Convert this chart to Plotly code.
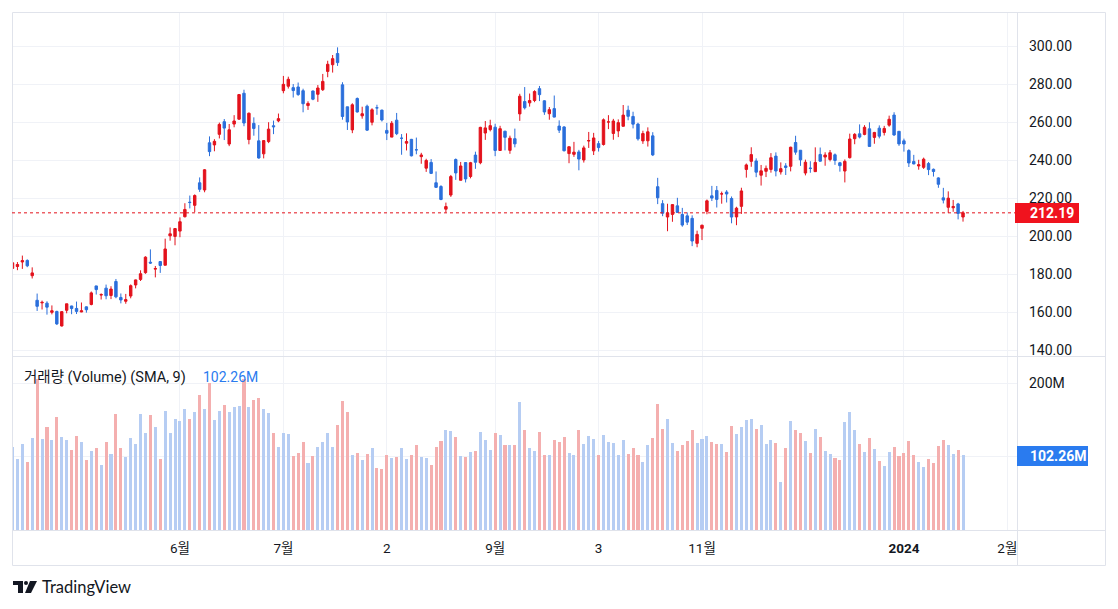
import plotly.graph_objects as go

# ---------------- data (TSLA daily) ----------------
dates = [
    "2023-04-13","2023-04-14","2023-04-17","2023-04-18","2023-04-19","2023-04-20","2023-04-21","2023-04-24","2023-04-25","2023-04-26","2023-04-27","2023-04-28",
    "2023-05-01","2023-05-02","2023-05-03","2023-05-04","2023-05-05","2023-05-08","2023-05-09","2023-05-10","2023-05-11","2023-05-12","2023-05-15","2023-05-16","2023-05-17","2023-05-18","2023-05-19","2023-05-22","2023-05-23","2023-05-24","2023-05-25","2023-05-26","2023-05-30","2023-05-31",
    "2023-06-01","2023-06-02","2023-06-05","2023-06-06","2023-06-07","2023-06-08","2023-06-09","2023-06-12","2023-06-13","2023-06-14","2023-06-15","2023-06-16","2023-06-20","2023-06-21","2023-06-22","2023-06-23","2023-06-26","2023-06-27","2023-06-28","2023-06-29","2023-06-30",
    "2023-07-03","2023-07-05","2023-07-06","2023-07-07","2023-07-10","2023-07-11","2023-07-12","2023-07-13","2023-07-14","2023-07-17","2023-07-18","2023-07-19","2023-07-20","2023-07-21","2023-07-24","2023-07-25","2023-07-26","2023-07-27","2023-07-28","2023-07-31",
    "2023-08-01","2023-08-02","2023-08-03","2023-08-04","2023-08-07","2023-08-08","2023-08-09","2023-08-10","2023-08-11","2023-08-14","2023-08-15","2023-08-16","2023-08-17","2023-08-18","2023-08-21","2023-08-22","2023-08-23","2023-08-24","2023-08-25","2023-08-28","2023-08-29","2023-08-30","2023-08-31",
    "2023-09-01","2023-09-05","2023-09-06","2023-09-07","2023-09-08","2023-09-11","2023-09-12","2023-09-13","2023-09-14","2023-09-15","2023-09-18","2023-09-19","2023-09-20","2023-09-21","2023-09-22","2023-09-25","2023-09-26","2023-09-27","2023-09-28","2023-09-29",
    "2023-10-02","2023-10-03","2023-10-04","2023-10-05","2023-10-06","2023-10-09","2023-10-10","2023-10-11","2023-10-12","2023-10-13","2023-10-16","2023-10-17","2023-10-18","2023-10-19","2023-10-20","2023-10-23","2023-10-24","2023-10-25","2023-10-26","2023-10-27","2023-10-30","2023-10-31",
    "2023-11-01","2023-11-02","2023-11-03","2023-11-06","2023-11-07","2023-11-08","2023-11-09","2023-11-10","2023-11-13","2023-11-14","2023-11-15","2023-11-16","2023-11-17","2023-11-20","2023-11-21","2023-11-22","2023-11-24","2023-11-27","2023-11-28","2023-11-29","2023-11-30",
    "2023-12-01","2023-12-04","2023-12-05","2023-12-06","2023-12-07","2023-12-08","2023-12-11","2023-12-12","2023-12-13","2023-12-14","2023-12-15","2023-12-18","2023-12-19","2023-12-20","2023-12-21","2023-12-22","2023-12-26","2023-12-27","2023-12-28","2023-12-29",
    "2024-01-02","2024-01-03","2024-01-04","2024-01-05","2024-01-08","2024-01-09","2024-01-10","2024-01-11","2024-01-12","2024-01-16","2024-01-17","2024-01-18","2024-01-19",
]

opens = [
    182.96,183.95,186.32,187.15,179.10,166.17,164.80,164.65,159.82,160.29,152.64,160.90,
    163.17,161.88,160.01,162.71,163.97,173.72,168.95,172.55,168.70,176.07,167.66,165.65,168.41,174.22,177.17,180.70,186.20,182.56,186.54,184.62,200.10,199.78,
    202.59,210.15,217.80,216.14,228.00,224.22,249.07,247.94,253.51,260.17,248.40,258.92,261.50,275.13,250.77,259.29,250.07,243.24,249.70,258.03,260.60,
    276.49,278.82,278.09,278.43,276.47,268.65,276.33,274.59,277.01,286.63,290.15,296.04,279.56,268.00,255.85,272.38,263.25,268.31,259.86,267.48,
    266.26,255.57,252.04,260.97,251.45,248.84,250.87,245.40,241.77,235.70,238.73,228.02,226.06,214.12,221.55,240.25,229.34,238.66,231.31,242.58,238.58,254.20,255.98,
    257.26,245.00,255.14,245.07,251.22,264.27,270.76,270.07,271.32,277.55,271.16,264.35,267.04,257.85,257.40,243.38,242.98,244.26,240.02,250.00,
    244.81,248.61,248.14,260.00,253.98,255.31,257.75,266.20,262.92,258.90,250.05,250.10,252.70,225.95,217.01,210.00,211.36,215.88,211.32,210.60,209.28,196.12,
    204.04,212.97,221.15,223.98,222.15,223.15,219.75,210.03,215.60,235.03,239.29,239.49,232.00,234.04,235.04,242.04,233.75,236.89,236.68,249.21,245.14,
    233.14,235.75,233.87,242.92,241.55,240.27,242.74,238.55,234.19,241.22,251.21,253.78,253.48,256.41,251.90,256.76,254.49,258.35,263.66,255.10,
    250.08,244.98,239.25,236.86,236.14,238.11,235.10,230.57,220.08,215.10,214.86,216.88,209.99,
]

highs = [
    186.50,186.28,189.69,187.69,183.50,169.70,166.00,165.65,163.47,160.67,160.48,164.33,
    163.28,165.49,165.00,162.95,170.79,173.80,169.82,174.43,173.57,177.38,169.76,169.52,174.50,177.06,181.95,189.32,192.96,184.22,186.78,198.60,204.48,203.95,
    209.80,217.25,221.29,221.91,230.83,235.23,252.42,250.97,259.68,261.57,258.95,263.60,274.75,276.99,265.00,262.45,258.37,250.39,259.88,260.74,264.45,
    284.25,283.85,279.97,280.78,277.52,270.90,276.52,279.45,285.30,292.23,295.26,299.29,280.93,268.00,269.85,272.90,268.04,269.13,267.25,269.08,
    266.47,259.52,260.49,264.77,253.65,254.03,251.10,251.80,243.79,240.66,240.50,233.97,226.74,217.58,232.13,240.82,238.98,238.92,239.00,244.38,257.48,260.51,261.18,
    259.08,258.00,255.39,252.81,256.52,274.85,278.39,274.98,276.71,278.98,271.44,267.85,273.93,260.86,257.79,247.10,249.55,245.33,247.55,254.77,
    254.28,250.02,261.86,263.60,261.65,261.36,268.94,268.60,265.41,259.60,255.40,257.18,254.63,230.61,218.86,216.98,216.08,220.10,214.80,212.41,210.88,202.80,
    205.99,219.20,226.37,226.32,223.38,224.15,220.80,215.38,225.40,238.14,246.70,240.88,237.39,237.10,243.62,244.01,238.75,238.33,247.00,252.75,245.22,
    240.19,239.37,246.66,246.57,244.08,245.27,243.44,238.99,240.30,253.88,254.13,258.74,258.34,259.84,254.80,258.22,257.97,263.34,265.13,255.19,
    251.25,245.68,242.70,240.12,241.25,238.96,235.50,230.93,225.34,223.49,218.98,217.45,213.19,
]

lows = [
    180.94,182.01,182.69,183.58,177.65,160.56,161.32,158.61,158.75,153.14,152.37,159.31,
    158.83,158.93,159.91,159.65,163.51,169.19,166.56,166.68,166.79,167.23,164.55,164.35,167.19,172.45,176.31,180.11,185.26,178.22,180.58,184.53,197.53,195.12,
    199.37,209.75,214.52,212.53,223.20,223.01,242.02,244.59,251.34,250.50,247.29,257.21,261.07,257.78,248.25,252.80,240.70,240.85,248.89,253.61,259.89,
    275.11,277.60,272.88,273.77,265.10,266.37,271.46,270.60,276.31,283.57,286.01,289.52,261.20,255.80,254.12,265.00,261.75,255.30,258.23,263.78,
    260.25,250.49,252.00,253.11,242.76,245.03,241.90,243.00,238.02,233.75,232.61,225.38,218.83,212.36,220.58,229.55,229.29,228.18,230.35,235.35,237.77,250.59,255.05,
    242.01,244.86,245.06,243.27,246.67,260.61,266.60,268.10,270.42,271.00,263.76,261.20,262.46,254.21,244.48,238.31,241.66,234.58,238.65,246.35,
    242.62,244.45,247.60,256.25,250.65,252.05,257.65,260.90,256.63,250.22,248.48,247.08,242.08,216.78,210.42,202.51,207.48,212.20,204.88,205.77,194.67,194.07,
    197.85,211.45,218.40,215.00,217.00,217.64,206.68,205.69,211.61,230.72,236.45,230.96,226.54,231.02,233.34,231.40,232.33,232.10,234.01,242.76,236.91,
    231.90,233.29,233.70,239.17,236.98,239.27,237.45,233.87,228.20,240.79,248.30,251.36,253.01,247.00,248.55,251.37,252.91,257.52,252.71,247.43,
    244.41,236.32,237.73,234.90,235.30,232.04,231.29,225.37,217.15,212.18,212.73,208.74,207.56,
]

closes = [
    185.90,185.00,187.04,184.31,180.59,162.99,165.08,162.55,160.67,153.75,160.19,164.31,
    161.83,160.31,160.61,161.20,170.06,171.79,169.15,168.54,172.08,167.98,166.35,166.52,173.86,176.89,180.14,188.87,185.77,182.90,184.47,193.17,201.16,203.93,
    207.52,213.97,217.61,221.31,224.57,234.86,244.40,249.83,258.71,256.79,255.90,260.54,274.45,259.46,264.61,256.60,241.05,250.21,256.24,257.50,261.77,
    279.82,282.48,276.54,274.43,269.61,269.79,271.99,277.90,281.38,290.38,293.34,291.26,262.90,260.02,269.06,265.28,264.35,255.71,266.44,267.43,
    261.07,254.11,259.32,253.86,251.45,249.70,242.19,245.34,242.65,239.76,232.96,225.60,219.22,215.49,231.28,233.19,236.86,230.04,238.59,238.82,257.18,256.90,258.08,
    245.01,256.49,251.92,251.49,248.50,273.58,267.48,271.30,276.04,274.39,265.28,266.50,262.59,255.70,244.88,246.99,244.12,240.50,246.38,250.22,
    251.60,246.53,261.16,260.05,260.53,259.67,263.62,262.99,258.87,251.12,253.92,254.85,242.68,220.11,211.99,212.08,216.52,212.42,205.76,207.30,197.36,200.84,
    205.66,218.51,219.96,219.27,222.18,222.11,209.98,214.65,223.71,237.41,242.84,233.59,234.30,235.60,241.20,234.21,235.45,236.08,246.72,244.14,240.08,
    238.83,235.58,238.72,239.37,242.64,243.84,239.74,237.01,239.29,251.05,253.50,252.08,257.22,247.14,254.50,252.54,256.61,261.44,253.18,248.48,
    248.42,238.45,237.93,237.49,240.45,234.96,233.94,227.22,218.89,219.91,215.55,211.88,212.19,
]

volumes_m = [
    112.9,96.3,116.7,92.1,125.7,205.0,123.5,140.0,121.9,153.4,127.0,122.5,
    109.0,128.3,119.7,95.1,107.4,112.2,88.6,119.8,103.9,157.6,112.1,98.8,125.7,117.3,157.6,132.0,156.9,140.5,96.9,162.1,131.8,150.7,
    148.0,164.1,151.1,160.6,184.0,164.5,199.9,150.3,162.4,170.6,160.2,167.6,169.0,206.0,166.9,176.6,179.9,165.2,159.8,131.3,112.3,
    131.9,131.2,101.3,104.3,119.5,91.0,100.2,112.7,119.9,131.6,112.4,142.4,175.2,161.0,101.7,104.2,95.9,103.6,111.4,84.6,
    83.2,101.8,97.6,99.2,111.1,96.6,101.6,115.7,98.9,98.6,88.2,112.5,120.6,135.8,134.6,126.0,101.0,99.7,106.0,107.7,134.0,121.9,108.9,
    132.3,129.5,116.0,115.0,115.9,174.7,135.9,111.7,107.7,133.4,101.5,102.4,122.5,119.5,127.0,104.6,101.7,136.6,117.1,128.3,
    123.8,101.9,129.7,119.2,117.9,101.4,122.7,103.7,111.5,102.3,93.2,116.3,125.1,170.8,138.0,150.7,118.2,107.1,115.1,121.2,136.4,118.1,
    124.1,127.5,120.0,117.3,116.9,106.6,142.1,130.0,140.4,149.8,150.7,136.8,142.5,116.6,122.3,117.9,65.1,112.0,148.5,135.4,132.4,
    121.2,104.1,137.8,126.4,107.1,103.0,97.9,95.3,146.3,160.8,135.7,116.4,106.7,125.1,109.6,93.4,86.9,106.5,113.6,100.9,
    104.7,121.1,102.6,92.5,85.2,96.7,91.6,113.7,122.9,115.4,103.2,108.6,102.1,
]

last_price = 212.19
volume_sma9 = 102.26

# time-axis ticks (bar index -> label)
tick_index = [34, 55, 76, 98, 119, 140, 181, 202]
tick_text = ["6월", "7월", "2", "9월", "3", "11월", "<b>2024</b>", "2월"]

price_ticks = [140, 160, 180, 200, 220, 240, 260, 280, 300]
volume_ticks = [100, 200]
volume_tick_text = ["", "200M"]

# ---------------- styling ----------------
OFF = 8                       # page body margin added by the browser
W, H = 1118 - OFF, 609 - OFF
PL, PR, PT, PB = 12, 1017, 12, 530   # plot area in page pixels
L, T = PL - OFF, PT - OFF
R, B = W - (PR - OFF), H - (PB - OFF)
PW, PH = PR - PL, PB - PT

UP = "#E3121C"
DOWN = "#2B6FDB"
VOL_UP = "#B6CDF3"
VOL_DOWN = "#F4AFAF"
GRID = "#F0F2F7"
BORDER = "#E0E3EB"
TEXT = "#131722"
BLUE_LBL = "#2A7BEF"
FONT = "Roboto, 'Noto Sans CJK KR', 'Noto Sans', sans-serif"

BAR_PX = 4.925      # pixel spacing between bars
FIRST_PX = 12.5     # page pixel position of first bar


def px(xp):
    return (xp - PL) / PW


def py(yp):
    return (PB - yp) / PH


idx = list(range(len(closes)))
vol_colors = [VOL_UP if c >= o else VOL_DOWN for o, c in zip(opens, closes)]

fig = go.Figure()
fig.add_trace(go.Candlestick(
    x=idx, open=opens, high=highs, low=lows, close=closes,
    increasing=dict(line=dict(color=UP, width=1), fillcolor=UP),
    decreasing=dict(line=dict(color=DOWN, width=1), fillcolor=DOWN),
    whiskerwidth=0, xaxis="x", yaxis="y", showlegend=False, hoverinfo="skip",
))
fig.add_trace(go.Bar(
    x=idx, y=volumes_m, marker=dict(color=vol_colors, line=dict(width=0)),
    width=0.62, xaxis="x2", yaxis="y2", showlegend=False, hoverinfo="skip",
))

xr = [(PL - FIRST_PX) / BAR_PX, (PR - FIRST_PX) / BAR_PX]
price_dom = [py(356), 1.0]
vol_dom = [0.0, py(357)]
price_range = [300 - (356 - 46) / 1.9, 300 + (46 - 12) / 1.9]
vol_range = [0, (530 - 357) / 0.735]

axis_font = dict(family=FONT, size=14, color=TEXT)
time_font = dict(family=FONT, size=13.5, color=TEXT)

fig.update_layout(
    width=W, height=H,
    margin=dict(l=L, r=R, t=T, b=B),
    paper_bgcolor="white", plot_bgcolor="white",
    font=dict(family=FONT, color=TEXT),
    hovermode=False,
    bargap=0,
    xaxis=dict(domain=[0, 1], anchor="y", range=xr, tickvals=tick_index, showticklabels=False,
               showgrid=True, gridcolor=GRID, gridwidth=1, zeroline=False, showline=False,
               rangeslider=dict(visible=False), fixedrange=True),
    xaxis2=dict(domain=[0, 1], anchor="y2", range=xr, matches="x", tickvals=tick_index, ticktext=tick_text,
                showgrid=True, gridcolor=GRID, gridwidth=1, zeroline=False, showline=False,
                ticks="", tickfont=time_font, ticklabelstandoff=8),
    yaxis=dict(domain=price_dom, anchor="x", side="right", range=price_range,
               tickvals=price_ticks, ticktext=[f"{v:.2f}" for v in price_ticks],
               showgrid=True, gridcolor=GRID, zeroline=False, showline=False,
               ticks="", tickfont=axis_font, ticklabelstandoff=11),
    yaxis2=dict(domain=vol_dom, anchor="x2", side="right", range=vol_range,
                tickvals=volume_ticks, ticktext=volume_tick_text,
                showgrid=True, gridcolor=GRID, zeroline=False, showline=False,
                ticks="", tickfont=axis_font, ticklabelstandoff=11),
)

shapes = []
line_style = dict(color=BORDER, width=1)
# outer frame and separators
shapes.append(dict(type="rect", xref="paper", yref="paper", x0=px(12.5), x1=px(1105.5), y0=py(565.5), y1=py(12.5),
                   line=line_style, layer="above"))
shapes.append(dict(type="line", xref="paper", yref="paper", x0=px(1017.5), x1=px(1017.5), y0=py(565.5), y1=py(12.5),
                   line=line_style, layer="above"))
shapes.append(dict(type="line", xref="paper", yref="paper", x0=px(12.5), x1=px(1105.5), y0=py(356.5), y1=py(356.5),
                   line=line_style, layer="above"))
shapes.append(dict(type="line", xref="paper", yref="paper", x0=px(12.5), x1=px(1105.5), y0=py(530.5), y1=py(530.5),
                   line=line_style, layer="above"))
# last price dotted line
shapes.append(dict(type="line", xref="paper", yref="y", x0=0, x1=1, y0=last_price, y1=last_price,
                   line=dict(color=UP, width=1, dash="dot"), layer="above"))
# price label box
shapes.append(dict(type="rect", xref="paper", yref="paper", x0=px(1015), x1=px(1079), y0=py(223), y1=py(203),
                   fillcolor="#F0131E", line=dict(width=0), layer="above"))
# volume SMA label box
shapes.append(dict(type="rect", xref="paper", yref="paper", x0=px(1017), x1=px(1088), y0=py(466), y1=py(446),
                   fillcolor=BLUE_LBL, line=dict(width=0), layer="above"))


# TradingView logo (approximate)
def path(points):
    return "M " + " L ".join(f"{px(a):.5f},{py(b):.5f}" for a, b in points) + " Z"


shapes.append(dict(type="path", xref="paper", yref="paper",
                   path=path([(13, 581), (23, 581), (23, 593), (18, 593), (18, 585), (13, 585)]),
                   fillcolor=TEXT, line=dict(width=0)))
shapes.append(dict(type="circle", xref="paper", yref="paper", x0=px(24), x1=px(28), y0=py(585), y1=py(581),
                   fillcolor=TEXT, line=dict(width=0)))
shapes.append(dict(type="path", xref="paper", yref="paper",
                   path=path([(30, 581), (37, 581), (31, 593), (25, 593)]),
                   fillcolor=TEXT, line=dict(width=0)))

annotations = [
    dict(xref="paper", yref="y", x=px(1028), y=last_price, xanchor="left", yanchor="middle",
         text="<b>212.19</b>", showarrow=False, font=dict(family=FONT, size=14, color="white")),
    dict(xref="paper", yref="paper", x=px(1028), y=py(456), xanchor="left", yanchor="middle",
         text="<b>102.26M</b>", showarrow=False, font=dict(family=FONT, size=14, color="white")),
    dict(xref="paper", yref="paper", x=px(22), y=py(377), xanchor="left", yanchor="middle",
         text="거래량 (Volume) (SMA, 9)", showarrow=False, font=dict(family=FONT, size=14.5, color=TEXT)),
    dict(xref="paper", yref="paper", x=px(201), y=py(377), xanchor="left", yanchor="middle",
         text=f"{volume_sma9:.2f}M", showarrow=False, font=dict(family=FONT, size=14, color=BLUE_LBL)),
    dict(xref="paper", yref="paper", x=px(40), y=py(587), xanchor="left", yanchor="middle",
         text="TradingView", showarrow=False, font=dict(family="Lato, Roboto, sans-serif", size=16.5, color=TEXT)),
]

fig.update_layout(shapes=shapes, annotations=annotations)
fig.write_html("out.html")
